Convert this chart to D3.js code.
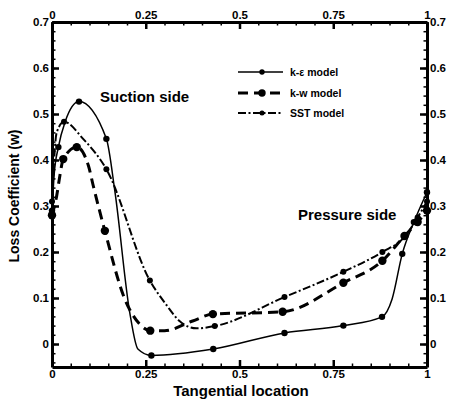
<!DOCTYPE html>
<html>
<head>
<meta charset="utf-8">
<script src="https://cdn.jsdelivr.net/npm/d3@7"></script>
<style>
  body { margin: 0; background: #fff; }
  svg text { font-family: "Liberation Sans", Arial, sans-serif; font-weight: bold; fill: #000; }
</style>
</head>
<body>
<div id="chart"></div>
<script>
// data (x = tangential location, y = loss coefficient)
var keX = [0, 0.006, 0.017, 0.035, 0.072, 0.145, 0.168, 0.207, 0.229, 0.265, 0.43, 0.62, 0.777, 0.88, 0.907, 0.934, 0.965, 1];
var keY = [0.29, 0.37, 0.428, 0.483, 0.527, 0.446, 0.33, 0.07, -0.011, -0.025, -0.011, 0.024, 0.04, 0.059, 0.098, 0.196, 0.265, 0.33];
var keMarks = [0, 2, 4, 5, 9, 10, 11, 12, 13, 15, 16, 17];

var kwX = [0, 0.0125, 0.021, 0.03, 0.066, 0.097, 0.11, 0.141, 0.194, 0.234, 0.262, 0.30, 0.375, 0.429, 0.615, 0.777, 0.881, 0.94, 0.975, 1];
var kwY = [0.28, 0.322, 0.366, 0.402, 0.428, 0.388, 0.344, 0.246, 0.098, 0.043, 0.029, 0.029, 0.05, 0.065, 0.07, 0.133, 0.181, 0.235, 0.265, 0.29];
var kwMarks = [0, 3, 4, 7, 10, 13, 14, 15, 16, 17, 18, 19];

var sstX = [0, 0.0125, 0.032, 0.083, 0.145, 0.261, 0.305, 0.34, 0.385, 0.434, 0.62, 0.777, 0.881, 0.939, 0.975, 1];
var sstY = [0.31, 0.46, 0.483, 0.446, 0.38, 0.138, 0.085, 0.05, 0.034, 0.039, 0.102, 0.157, 0.2, 0.232, 0.275, 0.31];
var sstMarks = [0, 2, 4, 5, 9, 10, 11, 12, 13, 14, 15];

var xTicks = [0, 0.25, 0.5, 0.75, 1];
var xTickLabels = ["0", "0.25", "0.5", "0.75", "1"];
var yTicks = [0, 0.1, 0.2, 0.3, 0.4, 0.5, 0.6, 0.7];
var yTickLabels = ["0", "0.1", "0.2", "0.3", "0.4", "0.5", "0.6", "0.7"];

var seriesNames = ["k-\u03b5 model", "k-w model", "SST model"];

var width = 452, height = 403;
var mLeft = 52, mRight = 427, mTop = 22, mBottom = 367;

var svg = d3.select('#chart').append('svg').attr('width', width).attr('height', height);

var x = d3.scaleLinear().domain([0, 1]).range([mLeft, mRight]);
var y = d3.scaleLinear().domain([-0.05, 0.7]).range([mBottom, mTop]);

var minorX = d3.range(0, 1.0001, 0.05);
var minorY = d3.range(-0.04, 0.7001, 0.02);

function makeAxis(kind) {
  if (kind === 'b') return d3.axisBottom(x);
  if (kind === 't') return d3.axisTop(x);
  if (kind === 'l') return d3.axisLeft(y);
  return d3.axisRight(y);
}

// frame: four axes with inward ticks, minor ticks drawn separately
[['b', 'translate(0,' + mBottom + ')', xTicks, xTickLabels, minorX],
 ['t', 'translate(0,' + mTop + ')', xTicks, xTickLabels, minorX],
 ['l', 'translate(' + mLeft + ',0)', yTicks, yTickLabels, minorY],
 ['r', 'translate(' + mRight + ',0)', yTicks, yTickLabels, minorY]].forEach(function (a) {
  var minorAxis = makeAxis(a[0]).tickValues(a[4]).tickSize(-3.5).tickFormat('');
  var gm = svg.append('g').attr('transform', a[1]).call(minorAxis);
  gm.select('.domain').remove();
  gm.selectAll('line').attr('stroke-width', 1.5);
  var g = svg.append('g').attr('transform', a[1])
    .call(makeAxis(a[0]).tickValues(a[2]).tickSizeInner(-7).tickSizeOuter(0).tickPadding(3)
      .tickFormat(function (d, i) { return a[3][i]; }));
  g.select('.domain').attr('stroke-width', 3);
  g.selectAll('.tick line').attr('stroke-width', 2.5);
  g.selectAll('text').style('font-size', '11.5px');
});

function pts(xs, ys) { return xs.map(function (v, i) { return [v, ys[i]]; }); }

var line = d3.line()
  .x(function (d) { return x(d[0]); })
  .y(function (d) { return y(d[1]); })
  .curve(d3.curveMonotoneX);

var series = [
  { data: pts(keX, keY), marks: keMarks, dash: null, sw: 1.5, r: 3.2 },
  { data: pts(kwX, kwY), marks: kwMarks, dash: '10,6', sw: 3, r: 4.2 },
  { data: pts(sstX, sstY), marks: sstMarks, dash: '8,2.5,2,2.5', sw: 2, r: 3 }
];

series.forEach(function (s) {
  svg.append('path').datum(s.data)
    .attr('d', line)
    .attr('fill', 'none')
    .attr('stroke', '#000')
    .attr('stroke-width', s.sw)
    .attr('stroke-dasharray', s.dash);
  svg.selectAll(null).data(s.marks.map(function (i) { return s.data[i]; })).enter().append('circle')
    .attr('cx', function (d) { return x(d[0]); })
    .attr('cy', function (d) { return y(d[1]); })
    .attr('r', s.r)
    .attr('fill', '#000');
});

// legend
var legY = [72, 93, 113];
series.forEach(function (s, i) {
  svg.append('line')
    .attr('x1', 238).attr('x2', 283).attr('y1', legY[i]).attr('y2', legY[i])
    .attr('stroke', '#000').attr('stroke-width', s.sw)
    .attr('stroke-dasharray', s.dash);
  svg.append('circle').attr('cx', 262).attr('cy', legY[i]).attr('r', s.r - 0.5).attr('fill', '#000');
  svg.append('text').attr('x', 290).attr('y', legY[i] + 3.5)
    .style('font-size', '10.5px').text(seriesNames[i]);
});

// annotations
svg.append('text').attr('x', 100).attr('y', 102).style('font-size', '15px').text('Suction side');
svg.append('text').attr('x', 298).attr('y', 220).style('font-size', '15px').text('Pressure side');

// axis titles
svg.append('text').attr('x', 241).attr('y', 396)
  .attr('text-anchor', 'middle').style('font-size', '15px').text('Tangential location');
svg.append('text')
  .attr('transform', 'translate(19,196) rotate(-90)')
  .attr('text-anchor', 'middle').style('font-size', '14px').text('Loss Coefficient (w)');
</script>
</body>
</html>
